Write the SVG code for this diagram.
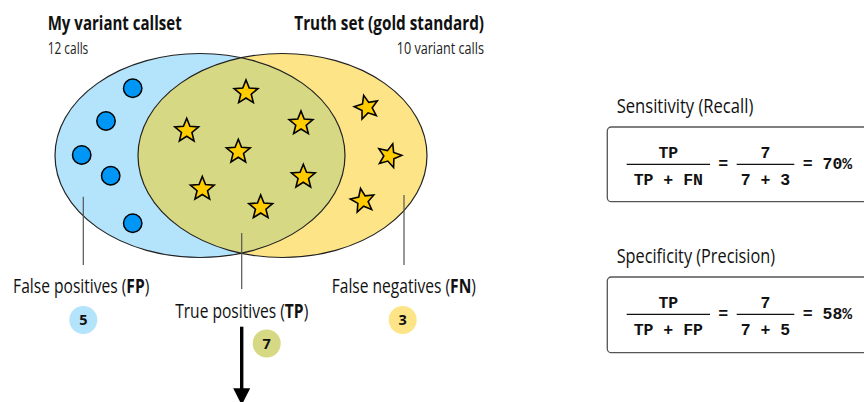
<svg xmlns="http://www.w3.org/2000/svg" xmlns:xlink="http://www.w3.org/1999/xlink" width="864" height="402" viewBox="0 0 864 402">
  <style>
    .title { font-family: "Open Sans", "Noto Sans", sans-serif; font-weight: 700; font-size: 20px; fill: #111; }
    .sub { font-family: "Open Sans", "Noto Sans", sans-serif; font-size: 15.5px; fill: #222; }
    .label { font-family: "Open Sans", "Noto Sans", sans-serif; font-size: 19.5px; fill: #111; text-anchor: middle; }
    .label tspan { font-weight: 700; }
    .badge-num { font-family: "Open Sans", "Noto Sans", sans-serif; font-weight: 700; font-size: 14.5px; fill: #111; text-anchor: middle; }
    .head { font-family: "Open Sans", "Noto Sans", sans-serif; font-size: 20px; fill: #111; }
    .mono { font-family: "Liberation Mono", "DejaVu Sans Mono", monospace; font-weight: 700; font-size: 16.5px; fill: #111; text-anchor: middle; }
    .set-edge { fill: none; stroke: #222; stroke-width: 1.2; }
    .leader { stroke: #555; stroke-width: 1.2; }
    .dot { fill: #0096f5; stroke: #000; stroke-width: 1.5; }
    .star { fill: #ffcc00; stroke: #000; stroke-width: 1.6; stroke-linejoin: miter; }
    .box { fill: #fff; stroke: #555; stroke-width: 1.3; }
    .bar { stroke: #111; stroke-width: 1.3; }
  </style>
  <defs>
    <path id="star" class="star" d="M0,-12.5 L3.23,-4.45 L11.89,-3.86 L5.23,1.7 L7.35,10.11 L0,5.5 L-7.35,10.11 L-5.23,1.7 L-11.89,-3.86 L-3.23,-4.45 Z"/>
    <clipPath id="leftSet">
      <ellipse cx="200" cy="155.5" rx="145" ry="102"/>
    </clipPath>
  </defs>

  <!-- Venn diagram of the two call sets -->
  <g id="venn">
    <ellipse cx="200" cy="155.5" rx="145" ry="102" fill="#b3e4fb"/>
    <ellipse cx="282.5" cy="155.5" rx="144.5" ry="102" fill="#fde587"/>
    <ellipse cx="282.5" cy="155.5" rx="144.5" ry="102" fill="#d7d884" clip-path="url(#leftSet)"/>
    <ellipse class="set-edge" cx="200" cy="155.5" rx="145" ry="102"/>
    <ellipse class="set-edge" cx="282.5" cy="155.5" rx="144.5" ry="102"/>
  </g>

  <!-- calls only in my callset -->
  <g id="false-positive-calls">
    <circle class="dot" cx="132.7" cy="88.3" r="9.2"/>
    <circle class="dot" cx="106" cy="121" r="9.2"/>
    <circle class="dot" cx="81.7" cy="155" r="9.2"/>
    <circle class="dot" cx="110.7" cy="175.7" r="9.2"/>
    <circle class="dot" cx="132.7" cy="223.3" r="9.2"/>
  </g>

  <!-- calls in both sets -->
  <g id="true-positive-calls">
    <use xlink:href="#star" transform="translate(246,92.5)"/>
    <use xlink:href="#star" transform="translate(186.7,130.8)"/>
    <use xlink:href="#star" transform="translate(301,123.5)"/>
    <use xlink:href="#star" transform="translate(238.3,151.8)"/>
    <use xlink:href="#star" transform="translate(303.3,176.8)"/>
    <use xlink:href="#star" transform="translate(202.3,189)"/>
    <use xlink:href="#star" transform="translate(260.7,207.5)"/>
  </g>

  <!-- truth calls that were missed -->
  <g id="false-negative-calls">
    <use xlink:href="#star" transform="translate(366.7,107.5) rotate(-14)"/>
    <use xlink:href="#star" transform="translate(389.3,155.8) rotate(16)"/>
    <use xlink:href="#star" transform="translate(362.7,200.8) rotate(-10)"/>
  </g>

  <!-- set titles -->
  <g id="callset-title">
    <text class="title" x="47.7" y="29.5" textLength="134" lengthAdjust="spacingAndGlyphs">My variant callset</text>
    <text class="sub" x="47.7" y="53.5" textLength="40.6" lengthAdjust="spacingAndGlyphs">12 calls</text>
  </g>
  <g id="truth-title">
    <text class="title" x="294.3" y="30" textLength="189.7" lengthAdjust="spacingAndGlyphs">Truth set (gold standard)</text>
    <text class="sub" x="396.7" y="53.5" textLength="87.3" lengthAdjust="spacingAndGlyphs">10 variant calls</text>
  </g>

  <!-- leader lines and arrow -->
  <g id="connectors">
    <line class="leader" x1="83.3" y1="196.7" x2="83.3" y2="265"/>
    <line class="leader" x1="241.7" y1="233" x2="241.7" y2="289"/>
    <line class="leader" x1="404" y1="195" x2="404" y2="265"/>
    <line x1="241.7" y1="326.7" x2="241.7" y2="389" stroke="#000" stroke-width="3.4"/>
    <path d="M233.2,388.3 L250.2,388.3 L241.7,405 Z" fill="#000"/>
  </g>

  <!-- category labels with counts (labels set in a condensed width) -->
  <g id="fp-label">
    <text class="label" transform="translate(81.2,293.3) scale(0.8,1)">False positives (<tspan>FP</tspan>)</text>
    <circle cx="83.3" cy="320" r="14" fill="#b3e4fb"/>
    <text class="badge-num" x="83.3" y="325.2">5</text>
  </g>
  <g id="tp-label">
    <text class="label" transform="translate(241.7,318.3) scale(0.8,1)">True positives (<tspan>TP</tspan>)</text>
    <circle cx="266.7" cy="343.5" r="14" fill="#d7d884"/>
    <text class="badge-num" x="266.7" y="348.7">7</text>
  </g>
  <g id="fn-label">
    <text class="label" transform="translate(403.8,293.3) scale(0.8,1)">False negatives (<tspan>FN</tspan>)</text>
    <circle cx="402.7" cy="320" r="14" fill="#fde587"/>
    <text class="badge-num" x="402.7" y="325.2">3</text>
  </g>

  <!-- sensitivity formula -->
  <g id="sensitivity">
    <text class="head" x="616.7" y="113.3" textLength="136.6" lengthAdjust="spacingAndGlyphs">Sensitivity (Recall)</text>
    <rect class="box" x="607.3" y="127" width="270" height="74.7" rx="4"/>
    <text class="mono" x="668.3" y="157.7">TP</text>
    <line class="bar" x1="626.7" y1="164.3" x2="710" y2="164.3"/>
    <text class="mono" x="668.3" y="185">TP + FN</text>
    <text class="mono" x="723.3" y="169">=</text>
    <text class="mono" x="765.5" y="157.7">7</text>
    <line class="bar" x1="736.7" y1="164.3" x2="794.3" y2="164.3"/>
    <text class="mono" x="765.5" y="185">7 + 3</text>
    <text class="mono" x="827.5" y="169">= 70%</text>
  </g>

  <!-- specificity formula -->
  <g id="specificity">
    <text class="head" x="616.7" y="263.3" textLength="158.3" lengthAdjust="spacingAndGlyphs">Specificity (Precision)</text>
    <rect class="box" x="607.3" y="277" width="270" height="75.7" rx="4"/>
    <text class="mono" x="668.3" y="307.7">TP</text>
    <line class="bar" x1="626.7" y1="314.3" x2="710" y2="314.3"/>
    <text class="mono" x="668.3" y="335">TP + FP</text>
    <text class="mono" x="723.3" y="319">=</text>
    <text class="mono" x="765.5" y="307.7">7</text>
    <line class="bar" x1="736.7" y1="314.3" x2="794.3" y2="314.3"/>
    <text class="mono" x="765.5" y="335">7 + 5</text>
    <text class="mono" x="827.5" y="319">= 58%</text>
  </g>
</svg>
